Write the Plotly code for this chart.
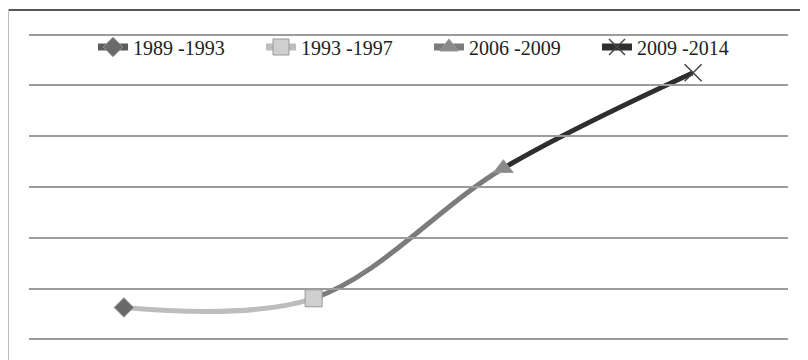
import plotly.graph_objects as go

# periods (one per point) and the value reached at the end of each period
periods = ["1989 -1993", "1993 -1997", "2006 -2009", "2009 -2014"]
values = [0.63, 0.81, 3.37, 5.25]

series_colors = ["#5c5c5c", "#bdbdbd", "#7c7c7c", "#2e2e2e"]
marker_symbols = ["diamond", "square", "triangle-up", "x-thin"]
marker_fills = ["#6a6a6a", "#cfcfcf", "#8a8a8a", "#444444"]

# page body has an 8px margin, so the figure is 8px smaller than the window
W, H = 800, 352
L, R, T, B = 21, 20, 24, 18
plot_w, plot_h = W - L - R, H - T - B

fig = go.Figure()

# smoothed line, one clipped copy per segment so each segment gets its own colour
for k in range(3):
    ax = str(k + 2)
    fig.add_trace(go.Scatter(
        x=periods, y=values, mode="lines",
        line=dict(color=series_colors[k + 1], width=5, shape="spline", smoothing=1),
        xaxis="x" + ax, yaxis="y", showlegend=False, hoverinfo="skip",
    ))
    fig.update_layout({
        "xaxis" + ax: dict(
            type="category", categoryarray=periods,
            domain=[(k + 0.5) / 4, (k + 1.5) / 4], range=[k, k + 1],
            visible=False, fixedrange=True,
        )
    })

# markers / legend entries
for i, p in enumerate(periods):
    fig.add_trace(go.Scatter(
        x=[p], y=[values[i]], mode="lines+markers", name=p,
        line=dict(color=series_colors[i], width=7),
        marker=dict(
            symbol=marker_symbols[i], size=17 if i else 15,
            color=marker_fills[i],
            line=dict(color="#444444" if i == 3 else "#999999", width=1.5 if i == 3 else 1),
        ),
        xaxis="x5", yaxis="y",
    ))

# frame around the chart
x0 = (0.5 - L) / plot_w
y_top = (H - B - 2) / plot_h
y_bot = (H - B - H) / plot_h
fig.add_shape(type="line", xref="paper", yref="paper", x0=x0, x1=(W - L) / plot_w,
              y0=y_top, y1=y_top, line=dict(color="#555555", width=2))
fig.add_shape(type="line", xref="paper", yref="paper", x0=x0, x1=x0,
              y0=y_top, y1=y_bot, line=dict(color="#bbbbbb", width=1))

fig.update_layout(
    width=W, height=H,
    margin=dict(l=L, r=R, t=T, b=B),
    paper_bgcolor="white", plot_bgcolor="rgba(0,0,0,0)",
    xaxis=dict(type="category", categoryarray=periods, range=[-0.5, 3.5],
               visible=False, fixedrange=True),
    xaxis5=dict(type="category", categoryarray=periods, range=[-0.5, 3.5],
                domain=[0, 1], visible=False, fixedrange=True),
    yaxis=dict(range=[-0.05, 6.05], dtick=1, showticklabels=False, ticks="",
               showgrid=True, gridcolor="#9c9c9c", gridwidth=1.5,
               zeroline=False, showline=False, fixedrange=True),
    legend=dict(
        orientation="h", x=(85 - L) / plot_w, xanchor="left",
        y=(H - B - 39) / plot_h, yanchor="middle",
        font=dict(family="Liberation Serif", size=20, color="#222222"),
        bgcolor="rgba(0,0,0,0)", entrywidth=123, entrywidthmode="pixels",
    ),
    showlegend=True,
)

fig.write_html("out.html")
